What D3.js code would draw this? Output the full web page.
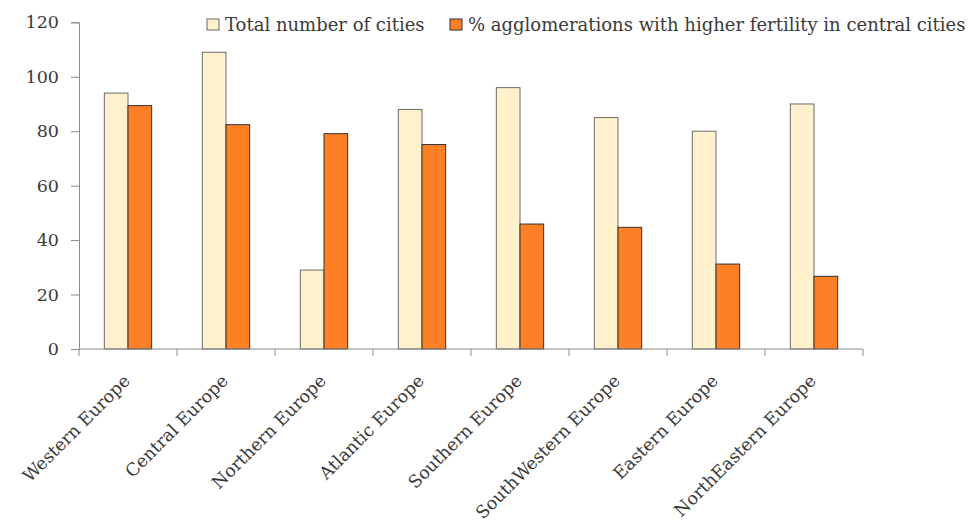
<!DOCTYPE html>
<html><head><meta charset="utf-8">
<script src="https://cdn.jsdelivr.net/npm/d3@7"></script>
<style>body{margin:0;background:#fff}svg{display:block}</style>
</head><body>
<svg id="c" width="976" height="525"></svg>
<script>
const categories = ["Western Europe","Central Europe","Northern Europe","Atlantic Europe","Southern Europe","SouthWestern Europe","Eastern Europe","NorthEastern Europe"];
const seriesNames = ["Total number of cities","% agglomerations with higher fertility in central cities"];
const totalCities = [94, 109, 29, 88, 96, 85, 80, 90];
const pctHigher = [89.4, 82.4, 79.1, 75.1, 45.9, 44.7, 31.2, 26.7];
const yTicks = [0, 20, 40, 60, 80, 100, 120];

(function(){
const svg = d3.select("#c");
const font = "'DejaVu Serif', serif";
const txt = "#3a3a3a";
const mLeft = 79, mRight = 863, mTop = 22.3, mBottom = 349;
const x = d3.scaleBand().domain(categories).range([mLeft, mRight]).paddingInner(0).paddingOuter(0);
const x1 = d3.scaleBand().domain([0,1]).range([0, x.bandwidth()]).paddingOuter(1.07).paddingInner(0);
const y = d3.scaleLinear().domain([0,120]).range([mBottom, mTop]);
const fills = ["#fff1cc", "#fd7f26"];
const strokes = ["#6b6b6b", "#333333"];
const series = [totalCities, pctHigher];

series.forEach((vals, s) => {
  svg.append("g").selectAll("rect").data(vals).join("rect")
    .attr("x", (d,i) => x(categories[i]) + x1(s))
    .attr("y", d => y(d))
    .attr("width", x1.bandwidth())
    .attr("height", d => y(0) - y(d))
    .attr("fill", fills[s])
    .attr("stroke", strokes[s])
    .attr("stroke-width", 1);
});

const ya = svg.append("g").attr("transform", `translate(${mLeft},0)`)
  .call(d3.axisLeft(y).tickValues(yTicks).tickSize(8).tickPadding(12));
ya.attr("font-family", null).attr("font-size", null);
ya.select(".domain").attr("stroke", "#8c8c8c");
ya.selectAll(".tick line").attr("stroke", "#8c8c8c");
ya.selectAll(".tick text").attr("font-family", font).attr("font-size", 17.5).attr("fill", txt);

const xa = svg.append("g").attr("transform", `translate(0,${mBottom})`);
xa.append("line").attr("x1", mLeft).attr("x2", mRight).attr("stroke", "#8c8c8c");
const bounds = categories.map(c => x(c)).concat([mRight]);
xa.selectAll("line.tk").data(bounds).join("line").attr("class","tk")
  .attr("x1", d => d).attr("x2", d => d).attr("y1", 0).attr("y2", 7).attr("stroke", "#8c8c8c");
xa.selectAll("text").data(categories).join("text")
  .attr("transform", d => `translate(${x(d) + x.bandwidth()/2 + 3},${33}) rotate(-45)`)
  .attr("text-anchor", "end")
  .attr("font-family", font).attr("font-size", 17.5).attr("fill", txt)
  .text(d => d);

const legX = [207, 450];
seriesNames.forEach((n, s) => {
  const g = svg.append("g").attr("transform", `translate(${legX[s]},19)`);
  g.append("rect").attr("width", 12).attr("height", 11).attr("fill", fills[s]).attr("stroke", strokes[s]);
  g.append("text").attr("x", 18).attr("y", 12).attr("font-family", font).attr("font-size", 18).attr("fill", txt).text(n);
});
})();
</script>
</body></html>
